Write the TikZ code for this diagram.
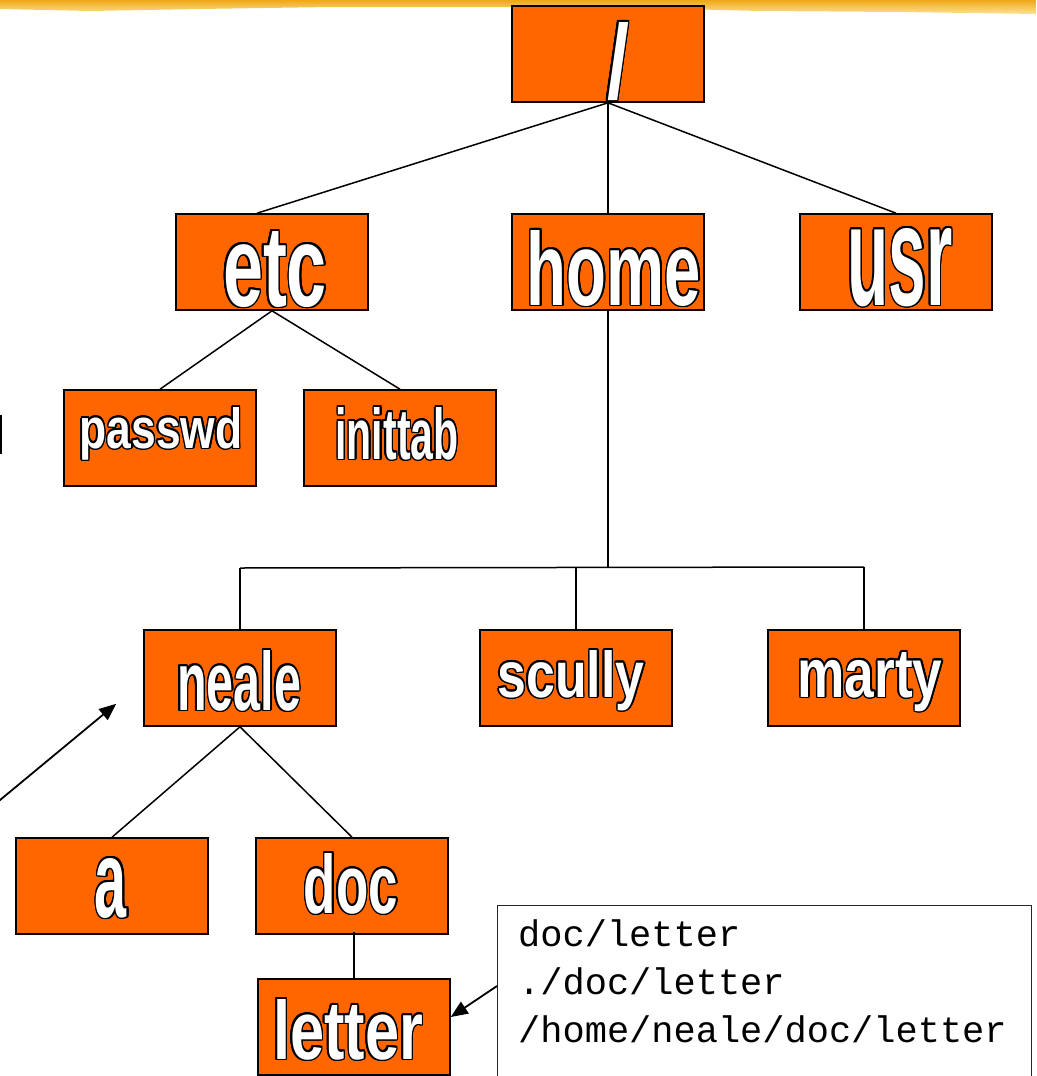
\documentclass[tikz,border=0pt]{standalone}
\usepackage{fontspec}
\usepackage{graphicx}
\usepackage{contour}
\usetikzlibrary{arrows.meta,calc}

\newfontfamily\dirfont{Liberation Sans}
\newfontfamily\pathfont{Liberation Mono}
\definecolor{dirorange}{HTML}{FF6600}
\definecolor{bandtop}{RGB}{240,168,24}
\definecolor{bandlow}{RGB}{252,226,150}

\contourlength{1.5pt}
% white condensed lettering with a black outline, scaled to width x height
\newcommand\dirlabel[3]{\contour{black}{\resizebox{#1pt}{#2pt}{\dirfont\bfseries #3}}}

\tikzset{
  dirbox/.style={draw=black, line width=1.6pt, fill=dirorange,
                 minimum width=192pt, minimum height=96pt, inner sep=0pt},
  dirname/.style={anchor=base, text=white, inner sep=0pt},
  link/.style={draw=black, line width=1.5pt},
  pointer/.style={draw=black, line width=1.8pt,
                  -{Triangle[length=17pt,width=14pt]}},
  pathline/.style={anchor=base west, inner sep=0pt,
                   font=\pathfont\fontsize{37}{44}\selectfont}
}

\begin{document}
\begin{tikzpicture}[x=1pt,y=-1pt]
\useasboundingbox (0,0) rectangle (1036,1076);

% brush-stroke band along the top edge
\shade[top color=bandtop, bottom color=bandlow]
  (0,0) -- (1036,0) -- (1036,14) -- (900,12) -- (760,11) -- (640,8)
  -- (480,7) -- (330,7) -- (200,9) -- (90,11) -- (0,9) -- cycle;

% clipped glyph at the left margin
\fill[black] (0,415) rectangle (2,454);

% directory boxes
\node[dirbox] (root)    at (608,54)   {};
\node[dirbox] (etc)     at (272,262)  {};
\node[dirbox] (home)    at (608,262)  {};
\node[dirbox] (usr)     at (896,262)  {};
\node[dirbox] (passwd)  at (160,438)  {};
\node[dirbox] (inittab) at (400,438)  {};
\node[dirbox] (neale)   at (240,678)  {};
\node[dirbox] (scully)  at (576,678)  {};
\node[dirbox] (marty)   at (864,678)  {};
\node[dirbox] (a)       at (112,886)  {};
\node[dirbox] (doc)     at (352,886)  {};
\node[dirbox] (letter)  at (354,1027) {};

% names
\node[dirname] (root-t)    at (618,98)   {\dirlabel{22}{76}{/}};
\node[dirname] (etc-t)     at (275,306)  {\dirlabel{104}{75}{etc}};
\node[dirname] (home-t)    at (614,305)  {\dirlabel{174}{75}{home}};
\node[dirname] (usr-t)     at (900,305)  {\dirlabel{105}{77}{usr}};
\node[dirname] (passwd-t)  at (161,448)  {\dirlabel{163}{41}{passwd}};
\node[dirname] (inittab-t) at (397,459)  {\dirlabel{123}{52}{inittab}};
\node[dirname] (neale-t)   at (239,710)  {\dirlabel{124}{60}{neale}};
\node[dirname] (scully-t)  at (571,697)  {\dirlabel{147}{47}{scully}};
\node[dirname] (marty-t)   at (870,697)  {\dirlabel{145}{45}{marty}};
\node[dirname] (a-t)       at (111,917)  {\dirlabel{32}{59}{a}};
\node[dirname] (doc-t)     at (351,913)  {\dirlabel{94}{60}{doc}};
\node[dirname] (letter-t)  at (348,1059) {\dirlabel{150}{60}{letter}};

% tree links
\draw[link] (root.south) -- ($(etc.north)+(-15,0)$);
\draw[link] (root.south) -- (home.north);
\draw[link] (root.south) -- (usr.north);
\draw[link] (etc.south) -- (passwd.north);
\draw[link] (etc.south) -- (inittab.north);

\coordinate (fork-l) at (240,568);
\coordinate (fork-r) at (864,567);
\draw[link] (home.south) -- (home.south |- 0,567);
\draw[link] (fork-l) -- (fork-r);
\draw[link] (fork-l) -- (neale.north);
\draw[link] (scully.north |- 0,567) -- (scully.north);
\draw[link] (fork-r) -- (marty.north);

\draw[link] (neale.south) -- (a.north);
\draw[link] (neale.south) -- (doc.north);
\draw[link] ($(letter.north |- doc.south)+(0,-3)$) -- (letter.north);

% path examples
\node[draw=black!85, line width=1.3pt, anchor=north west, inner sep=0pt,
      minimum width=534pt, minimum height=200pt] (paths) at (497,905) {};
\node[pathline] (p1) at (518,946)  {doc/letter};
\node[pathline] (p2) at (518,994)  {./doc/letter};
\node[pathline] (p3) at (518,1042) {/home/neale/doc/letter};

% pointers
\coordinate (paths-a) at ($(paths.north west)+(0,81)$);
\draw[pointer] (paths-a) -- ($(letter.east)+(0,-10)$);
\coordinate (cwd-tail) at (-6,805);
\coordinate (cwd-head) at ($(neale.south west)+(-27,-23)$);
\draw[pointer] (cwd-tail) -- (cwd-head);
\end{tikzpicture}
\end{document}
